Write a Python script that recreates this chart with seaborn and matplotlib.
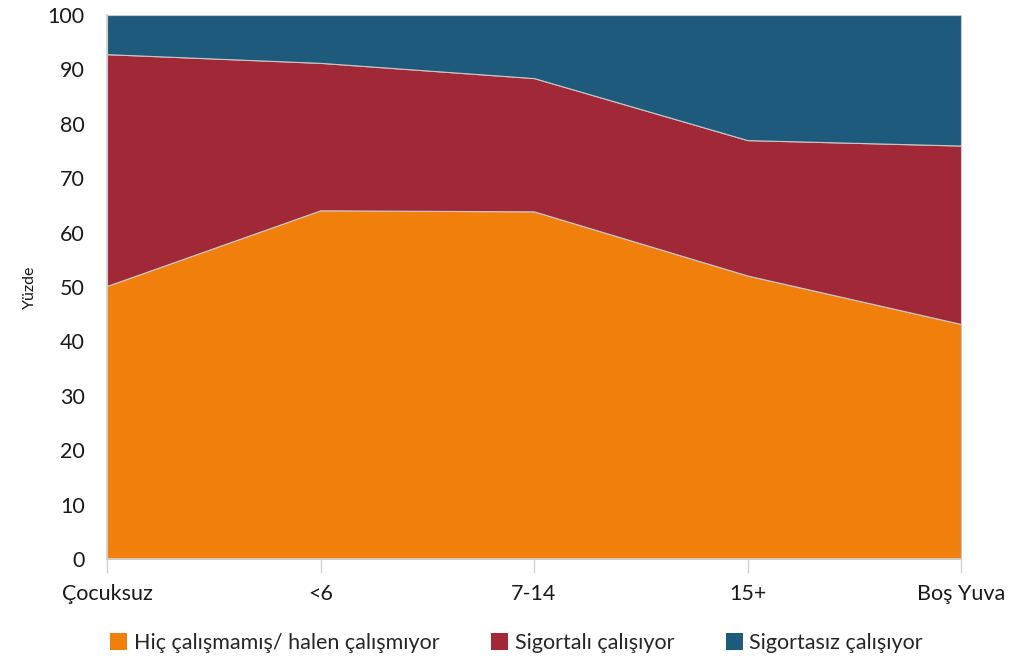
import matplotlib
matplotlib.use('Agg')
import matplotlib.pyplot as plt
import seaborn as sns
from matplotlib.patches import Patch

# Data
categories = ['Çocuksuz', '<6', '7-14', '15+', 'Boş Yuva']
hic_calismamis = [50.2, 64.1, 63.9, 52.1, 43.2]
sigortali = [42.6, 27.1, 24.5, 24.9, 32.8]
sigortasiz = [round(100 - a - b, 1) for a, b in zip(hic_calismamis, sigortali)]
series_names = ['Hiç çalışmamış/ halen çalışmıyor', 'Sigortalı çalışıyor', 'Sigortasız çalışıyor']
colors = ['#F07F0C', '#A12836', '#1E5A7B']

sns.set_theme(style='white')
plt.rcParams['font.family'] = ['Lato', 'DejaVu Sans']

fig = plt.figure(figsize=(10.33, 6.67), dpi=100)
ax = fig.add_axes([0.1036, 0.162, 0.8267, 0.8155])

x = list(range(len(categories)))
ax.stackplot(x, hic_calismamis, sigortali, sigortasiz, colors=colors,
             edgecolor='#c8c8c8', linewidth=0.8)

ax.set_xlim(0, len(categories) - 1)
ax.set_ylim(0, 100)
ax.set_yticks(range(0, 101, 10))
ax.set_xticks(x)
ax.set_xticklabels(categories)
ax.tick_params(axis='y', length=0, pad=16, labelsize=15.5, colors='#1a1a1a')
ax.tick_params(axis='x', length=10, width=1, color='#d0d0d0', pad=8,
               labelsize=15.5, colors='#1a1a1a', direction='out')
ax.tick_params(axis='x', colors='#d0d0d0', labelcolor='#1a1a1a')
ax.xaxis.set_ticks_position('bottom')
ax.set_ylabel('Yüzde', fontsize=11.5, labelpad=8, color='#1a1a1a')

for side in ['top', 'right']:
    ax.spines[side].set_visible(False)
ax.spines['left'].set_color('#d0d0d0')
ax.spines['bottom'].set_color('#d0d0d0')

handles = [Patch(facecolor=c, edgecolor='none') for c in colors]
fig.legend(handles, series_names, loc='center', bbox_to_anchor=(0.5, 0.036),
           ncol=3, frameon=False, fontsize=15.5, handlelength=0.8, handleheight=0.8,
           handletextpad=0.3, columnspacing=2.4)

fig.savefig('out.png', dpi=100)
